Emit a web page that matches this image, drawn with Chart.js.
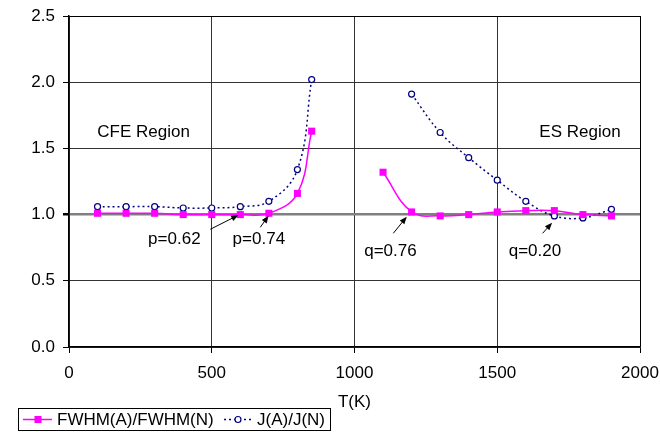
<!DOCTYPE html>
<html lang="en">
<head>
<meta charset="UTF-8">
<title>FWHM and J ratios vs T</title>
<script src="https://cdn.jsdelivr.net/npm/chart.js@4"></script>
<style>
  body { margin: 0; background: #fff; }
  #chart { display: block; }
</style>
</head>
<body>
<canvas id="chart" width="660" height="432"></canvas>
<script>
  // CFE region (low T) and ES region (high T)
  const cfeTemps = [100, 200, 300, 400, 500, 600, 700, 800, 850];
  const cfeFwhm  = [1.01, 1.01, 1.01, 1.0, 1.0, 1.0, 1.01, 1.16, 1.63];
  const cfeJ     = [1.06, 1.06, 1.06, 1.05, 1.05, 1.06, 1.10, 1.34, 2.02];

  const esTempsFwhm = [1100, 1200, 1300, 1400, 1500, 1600, 1700, 1800, 1900];
  const esFwhm      = [1.32, 1.02, 0.99, 1.0, 1.02, 1.03, 1.03, 1.0, 0.99];
  const esTempsJ    = [1200, 1300, 1400, 1500, 1600, 1700, 1800, 1900];
  const esJ         = [1.91, 1.62, 1.43, 1.26, 1.10, 0.99, 0.975, 1.04];

  const seriesNames = ['FWHM(A)/FWHM(N)', 'J(A)/J(N)'];
  const yTicks = [0, 0.5, 1.0, 1.5, 2.0, 2.5];
  const xTicks = [0, 500, 1000, 1500, 2000];

  // text notes in data units
  const regionNotes = [
    { text: 'CFE Region', x: 99, y: 1.62, align: 'left' },
    { text: 'ES Region', x: 1932, y: 1.62, align: 'right' }
  ];
  const arrowNotes = [
    { text: 'p=0.62', tx: 369, ty: 0.813, from: [495, 0.889], to: [594, 0.997] },
    { text: 'p=0.74', tx: 665, ty: 0.813, from: [670, 0.904], to: [699, 0.992] },
    { text: 'q=0.76', tx: 1126, ty: 0.72, from: [1136, 0.859], to: [1183, 0.984] },
    { text: 'q=0.20', tx: 1632, ty: 0.72, from: [1659, 0.859], to: [1692, 0.939] }
  ];

  const FONT = 'Liberation Sans, Arial, sans-serif';
  const MAGENTA = '#ff00ff';
  const NAVY = '#000080';

  function toPoints(xs, ys) {
    return xs.map((x, i) => ({ x: x, y: ys[i] }));
  }
  // null point between the two regions breaks the line
  const fwhmData = toPoints(cfeTemps, cfeFwhm).concat([{ x: 1000, y: null }], toPoints(esTempsFwhm, esFwhm));
  const jData = toPoints(cfeTemps, cfeJ).concat([{ x: 1000, y: null }], toPoints(esTempsJ, esJ));

  function drawArrow(ctx, x1, y1, x2, y2) {
    const a = Math.atan2(y2 - y1, x2 - x1);
    const head = 8;
    ctx.beginPath();
    ctx.moveTo(x1, y1);
    ctx.lineTo(x2 - Math.cos(a) * 4, y2 - Math.sin(a) * 4);
    ctx.stroke();
    ctx.beginPath();
    ctx.moveTo(x2, y2);
    ctx.lineTo(x2 - head * Math.cos(a - 0.38), y2 - head * Math.sin(a - 0.38));
    ctx.lineTo(x2 - head * Math.cos(a + 0.38), y2 - head * Math.sin(a + 0.38));
    ctx.closePath();
    ctx.fill();
  }

  const notesPlugin = {
    id: 'notes',
    afterDatasetsDraw(chart) {
      const ctx = chart.ctx;
      const xs = chart.scales.x, ys = chart.scales.y;
      ctx.save();
      ctx.fillStyle = '#000';
      ctx.strokeStyle = '#000';
      ctx.lineWidth = 1;
      ctx.font = '17px ' + FONT;
      ctx.textBaseline = 'middle';
      regionNotes.forEach(n => {
        ctx.textAlign = n.align;
        ctx.fillText(n.text, xs.getPixelForValue(n.x), ys.getPixelForValue(n.y));
      });
      arrowNotes.forEach(n => {
        ctx.textAlign = 'center';
        ctx.fillText(n.text, xs.getPixelForValue(n.tx), ys.getPixelForValue(n.ty));
        drawArrow(ctx,
          xs.getPixelForValue(n.from[0]), ys.getPixelForValue(n.from[1]),
          xs.getPixelForValue(n.to[0]), ys.getPixelForValue(n.to[1]));
      });
      ctx.restore();
    },
    afterDraw(chart) {
      // boxed legend at the bottom left
      const ctx = chart.ctx;
      const ds = chart.data.datasets;
      ctx.save();
      ctx.strokeStyle = '#000';
      ctx.lineWidth = 1;
      ctx.strokeRect(18.5, 408.5, 312, 22);
      const yc = 419.5;
      ctx.font = '17px ' + FONT;
      ctx.textBaseline = 'middle';
      ctx.textAlign = 'left';
      ctx.fillStyle = '#000';

      // FWHM sample
      ctx.strokeStyle = ds[0].borderColor;
      ctx.lineWidth = 1.5;
      ctx.beginPath(); ctx.moveTo(23, yc); ctx.lineTo(52, yc); ctx.stroke();
      ctx.fillStyle = ds[0].backgroundColor;
      ctx.fillRect(34.5, yc - 3.5, 7, 7);
      ctx.fillStyle = '#000';
      ctx.fillText(seriesNames[0], 57, yc + 1);

      // J sample
      ctx.strokeStyle = ds[1].borderColor;
      ctx.setLineDash(ds[1].borderDash);
      ctx.beginPath(); ctx.moveTo(224, yc); ctx.lineTo(252, yc); ctx.stroke();
      ctx.setLineDash([]);
      ctx.fillStyle = '#fff';
      ctx.lineWidth = 1.2;
      ctx.beginPath(); ctx.arc(238, yc, 3, 0, Math.PI * 2); ctx.fill(); ctx.stroke();
      ctx.fillStyle = '#000';
      ctx.fillText(seriesNames[1], 257, yc + 1);
      ctx.restore();
    }
  };

  new Chart(document.getElementById('chart'), {
    type: 'line',
    data: {
      datasets: [
        {
          label: seriesNames[0],
          data: fwhmData,
          borderColor: MAGENTA,
          backgroundColor: MAGENTA,
          borderWidth: 1.5,
          tension: 0.4,
          pointStyle: 'rect',
          pointRadius: 5,
          pointBorderWidth: 0,
          pointBackgroundColor: MAGENTA
        },
        {
          label: seriesNames[1],
          data: jData,
          borderColor: NAVY,
          backgroundColor: '#fff',
          borderWidth: 1.5,
          borderDash: [2, 3],
          tension: 0.4,
          pointStyle: 'circle',
          pointRadius: 3,
          pointBorderWidth: 1.2,
          pointBorderColor: NAVY,
          pointBackgroundColor: '#fff'
        }
      ]
    },
    options: {
      responsive: false,
      animation: false,
      layout: { padding: { top: 16, right: 20, left: 0, bottom: 0 } },
      plugins: {
        legend: { display: false },
        tooltip: { enabled: false }
      },
      scales: {
        x: {
          type: 'linear',
          min: xTicks[0],
          max: xTicks[xTicks.length - 1],
          afterFit: s => { s.height = 85; s.paddingLeft = 0; s.paddingRight = 0; },
          afterBuildTicks: s => { s.ticks = xTicks.map(v => ({ value: v })); },
          border: { color: '#000', width: 1.5 },
          grid: {
            color: c => c.tick && c.tick.value === 2000 ? '#000' : '#333',
            lineWidth: 1,
            tickLength: 6,
            tickColor: '#000'
          },
          ticks: {
            padding: 10,
            color: '#000',
            font: { family: FONT, size: 17 },
            callback: v => String(v)
          },
          title: {
            display: true,
            text: 'T(K)',
            color: '#000',
            font: { family: FONT, size: 17 },
            padding: { top: 0, bottom: 19 }
          }
        },
        y: {
          min: yTicks[0],
          max: yTicks[yTicks.length - 1],
          afterFit: s => { s.width = 69; s.paddingTop = 0; s.paddingBottom = 0; },
          afterBuildTicks: s => { s.ticks = yTicks.map(v => ({ value: v })); },
          border: { color: '#000', width: 1.5 },
          grid: {
            color: c => {
              if (!c.tick) return '#333';
              if (c.tick.value === 1) return '#808080';
              if (c.tick.value === 2.5) return '#000';
              return '#333';
            },
            lineWidth: c => c.tick && c.tick.value === 1 ? 2.5 : 1,
            tickLength: 6,
            tickColor: '#000'
          },
          ticks: {
            padding: 8,
            color: '#000',
            font: { family: FONT, size: 17 },
            callback: v => v.toFixed(1)
          }
        }
      }
    },
    plugins: [notesPlugin]
  });
</script>
</body>
</html>
